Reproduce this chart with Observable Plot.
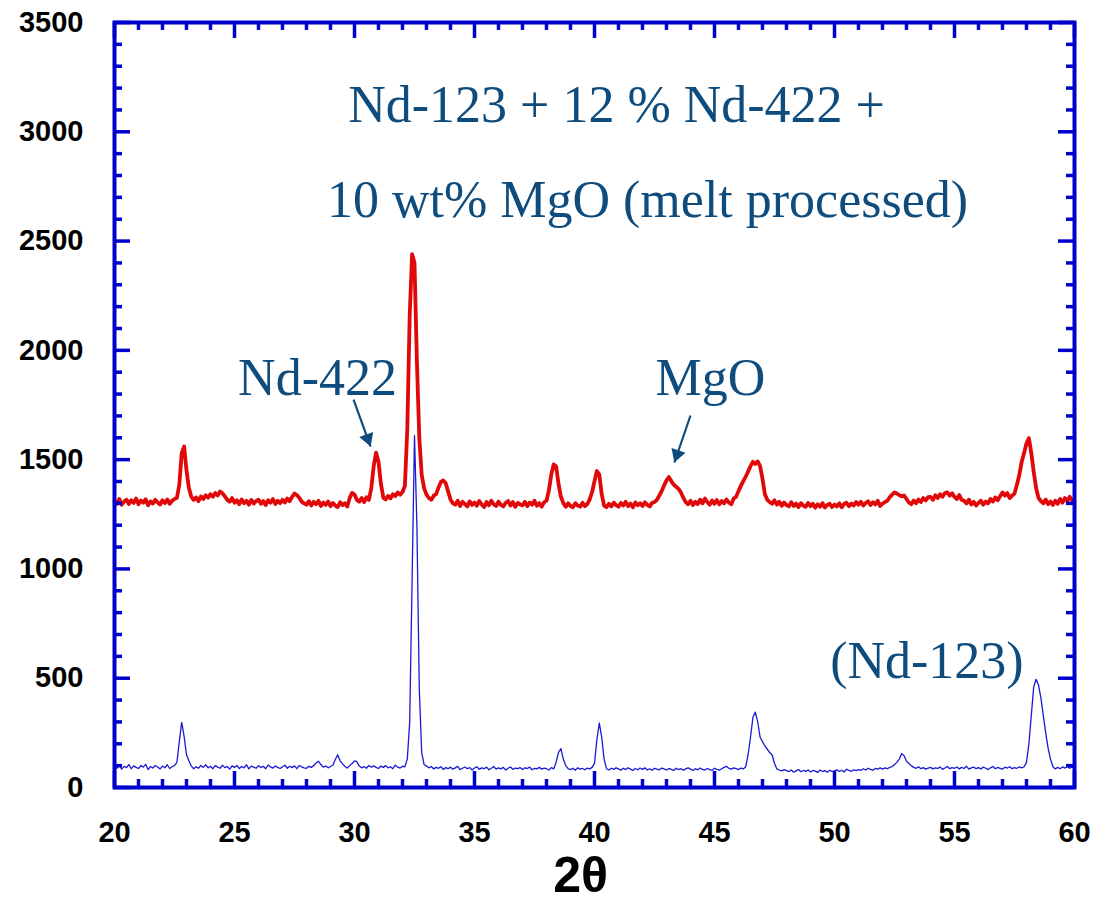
<!DOCTYPE html>
<html>
<head>
<meta charset="utf-8">
<script src="https://cdn.jsdelivr.net/npm/d3@7"></script>
<script src="https://cdn.jsdelivr.net/npm/@observablehq/plot@0.6"></script>
<style>
  html, body { margin: 0; padding: 0; background: #fff; }
  #chart svg { display: block; }
</style>
</head>
<body>
<div id="chart"></div>
<script>
// ---- Data (2θ scan from 20.0 to 60.0 deg, step 0.1) ----
const scanStart = 20, scanStep = 0.1;

// Nd-123 + 12% Nd-422 + 10 wt% MgO (melt processed) — red trace
const redCounts = [
  1310,1298,1320,1294,1308,1317,1297,1314,1302,1322, // 20
  1296,1313,1303,1319,1291,1309,1299,1316,1304,1295, // 21
  1314,1301,1318,1298,1312,1320,1325,1385,1530,1560, // 22
  1450,1370,1330,1316,1327,1310,1332,1320,1337,1326, // 23
  1342,1330,1347,1336,1354,1346,1332,1316,1308,1324, // 24
  1303,1314,1296,1318,1301,1312,1294,1316,1299,1310, // 25
  1317,1298,1311,1292,1314,1303,1320,1297,1312,1301, // 26
  1316,1304,1322,1310,1330,1345,1338,1325,1308,1300, // 27
  1294,1310,1290,1307,1296,1312,1288,1304,1293,1308, // 28
  1287,1302,1290,1283,1305,1292,1300,1286,1325,1348, // 29
  1340,1316,1308,1324,1306,1328,1316,1370,1470,1532, // 30
  1490,1390,1326,1318,1334,1323,1342,1333,1350,1340, // 31
  1352,1380,1640,2160,2440,2400,1950,1600,1430,1370, // 32
  1340,1325,1316,1335,1342,1372,1398,1405,1392,1355, // 33
  1318,1300,1294,1312,1288,1307,1297,1286,1309,1293, // 34
  1304,1289,1311,1295,1283,1306,1291,1312,1296,1288, // 35
  1308,1293,1286,1303,1311,1290,1306,1284,1302,1295, // 36
  1291,1307,1287,1304,1294,1312,1289,1301,1285,1305, // 37
  1312,1360,1432,1478,1470,1390,1330,1302,1284,1300, // 38
  1288,1282,1301,1290,1285,1303,1287,1297,1318,1352, // 39
  1402,1448,1432,1342,1290,1283,1298,1286,1303,1292, // 40
  1285,1302,1290,1307,1287,1299,1282,1304,1291,1300, // 41
  1288,1305,1293,1286,1302,1306,1316,1336,1356,1382, // 42
  1405,1420,1402,1386,1376,1366,1350,1326,1306,1296, // 43
  1312,1292,1307,1297,1317,1300,1322,1306,1294,1313, // 44
  1298,1315,1295,1311,1300,1318,1303,1296,1322,1330, // 45
  1356,1380,1402,1422,1446,1470,1490,1480,1492,1470, // 46
  1412,1342,1316,1306,1298,1314,1294,1307,1289,1304, // 47
  1292,1286,1305,1288,1299,1283,1301,1290,1284,1302, // 48
  1287,1298,1280,1296,1285,1301,1281,1293,1298,1283, // 49
  1295,1286,1300,1282,1297,1303,1287,1299,1290,1306, // 50
  1294,1307,1290,1302,1310,1292,1305,1295,1312,1288, // 51
  1299,1306,1312,1328,1340,1350,1345,1338,1332,1336, // 52
  1320,1304,1296,1313,1301,1318,1306,1324,1313,1328, // 53
  1330,1316,1337,1324,1342,1330,1347,1350,1336,1346, // 54
  1330,1320,1338,1316,1312,1300,1317,1295,1307,1290, // 55
  1302,1312,1294,1308,1300,1320,1308,1327,1314,1332, // 56
  1350,1336,1347,1324,1335,1345,1385,1430,1490,1530, // 57
  1575,1598,1530,1445,1370,1325,1310,1300,1317,1296, // 58
  1308,1293,1312,1298,1320,1303,1324,1310,1330,1314, // 59
  1310                                               // 60
];

// Nd-123 — blue trace
const blueCounts = [
  95,88,102,84,97,91,105,86,99,92,        // 20
  87,100,93,106,82,96,89,101,94,85,       // 21
  98,90,104,87,95,100,115,210,298,235,    // 22
  150,122,98,86,95,88,101,92,104,90,      // 23
  97,86,100,93,88,102,91,96,84,99,        // 24
  92,101,87,96,90,104,85,98,93,88,        // 25
  100,91,97,86,103,94,89,98,92,87,        // 26
  95,102,88,97,91,99,86,101,94,90,        // 27
  88,97,92,100,112,120,105,93,98,90,      // 28
  96,102,128,150,122,108,96,89,100,110,   // 29
  122,118,98,90,96,88,101,93,99,92,       // 30
  87,98,92,100,90,95,86,102,93,89,        // 31
  97,95,130,300,950,1610,1200,450,160,105,// 32
  98,90,96,85,92,88,95,83,91,86,          // 33
  93,84,90,97,82,88,94,86,91,80,          // 34
  89,95,83,90,86,93,81,88,96,84,          // 35
  90,85,92,80,88,94,83,89,86,91,          // 36
  82,90,87,93,81,88,85,92,84,89,          // 37
  86,80,91,85,115,160,178,130,100,86,     // 38
  82,88,79,90,84,87,81,89,85,92,          // 39
  110,220,295,230,130,86,80,88,83,90,     // 40
  85,79,88,82,90,84,78,87,81,89,          // 41
  83,90,80,86,79,88,84,81,89,85,          // 42
  80,87,83,78,88,82,86,79,85,90,          // 43
  84,78,86,81,89,83,80,87,82,79,          // 44
  88,83,79,86,92,97,88,84,90,86,          // 45
  82,89,85,95,150,230,320,345,300,230,    // 46
  210,190,175,160,150,110,85,80,76,82,    // 47
  77,73,80,70,76,82,72,78,74,80,          // 48
  71,78,75,69,80,73,77,70,79,74,          // 49
  76,81,73,79,71,84,78,74,81,77,          // 50
  82,78,86,80,88,83,79,87,84,90,          // 51
  84,90,86,92,95,105,115,130,155,145,     // 52
  120,110,100,92,88,95,86,91,84,89,       // 53
  92,85,90,87,94,83,89,96,86,91,          // 54
  88,94,85,92,87,97,84,90,93,86,          // 55
  91,85,94,88,82,90,96,86,92,88,          // 56
  84,93,89,95,86,91,88,94,90,95,          // 57
  115,200,330,460,495,470,410,330,250,180,// 58
  130,95,85,92,86,94,89,96,88,93,         // 59
  90                                      // 60
];

// Axis ticks
const xMajorTicks = [20, 25, 30, 35, 40, 45, 50, 55, 60];
const xMinorTicks = [21,22,23,24,26,27,28,29,31,32,33,34,36,37,38,39,41,42,43,44,46,47,48,49,51,52,53,54,56,57,58,59];
const yMajorTicks = [0, 500, 1000, 1500, 2000, 2500, 3000, 3500];
const yMinorTicks = [100,200,300,400,600,700,800,900,1100,1200,1300,1400,1600,1700,1800,1900,2100,2200,2300,2400,2600,2700,2800,2900,3100,3200,3300,3400];
const xTitle = "2θ";
const xTitleAt = 39.42;

// Annotations
const noteText = ["Nd-123 + 12 % Nd-422 +", "10 wt% MgO (melt processed)", "Nd-422", "MgO", "(Nd-123)"];
const noteX = [40.92, 42.21, 28.46, 44.83, 53.85];
const noteY = [3047, 2608, 1798, 1798, 503];

const arrowFromX = [29.96, 44.0];
const arrowFromY = [1775, 1702];
const arrowToX = [30.67, 43.33];
const arrowToY = [1560, 1487];

// ---- Build tables ----
const scan = redCounts.map((r, i) => ({
  tt: +(scanStart + i * scanStep).toFixed(1),
  red: r,
  blue: blueCounts[i]
}));
const notes = noteText.map((t, i) => ({t, x: noteX[i], y: noteY[i]}));
const arrows = arrowFromX.map((x, i) => ({x1: x, y1: arrowFromY[i], x2: arrowToX[i], y2: arrowToY[i]}));

const W = 1093, H = 914, mL = 114, mR = 19, mT = 22, mB = 127;
const innerW = W - mL - mR, innerH = H - mT - mB;
const frameBlue = "#0000cc";
const noteBlue = "#0f4c7e";
const sans = "'Liberation Sans', Arial, Helvetica, sans-serif";
const serif = "'Liberation Serif', 'Times New Roman', Times, serif";

const chart = Plot.plot({
  width: W, height: H,
  marginLeft: mL, marginRight: mR, marginTop: mT, marginBottom: mB,
  style: {background: "#fff", overflow: "visible"},
  x: {domain: [20, 60]},
  y: {domain: [0, 3500]},
  marks: [
    // data
    Plot.line(scan, {x: "tt", y: "red", stroke: "#e00808", strokeWidth: 3.8, strokeLinejoin: "round"}),
    Plot.line(scan, {x: "tt", y: "blue", stroke: "#1a1ad4", strokeWidth: 1.3, strokeLinejoin: "round"}),
    // frame
    Plot.frame({stroke: frameBlue, strokeWidth: 4}),
    // inward ticks on all four sides
    Plot.ruleX(xMajorTicks, {x: d => d, stroke: frameBlue, strokeWidth: 3.5, insetTop: innerH - 16}),
    Plot.ruleX(xMinorTicks, {x: d => d, stroke: frameBlue, strokeWidth: 3.5, insetTop: innerH - 8}),
    Plot.ruleX(xMajorTicks, {x: d => d, stroke: frameBlue, strokeWidth: 3.5, insetBottom: innerH - 16}),
    Plot.ruleX(xMinorTicks, {x: d => d, stroke: frameBlue, strokeWidth: 3.5, insetBottom: innerH - 8}),
    Plot.ruleY(yMajorTicks, {y: d => d, stroke: frameBlue, strokeWidth: 3.5, insetRight: innerW - 16}),
    Plot.ruleY(yMinorTicks, {y: d => d, stroke: frameBlue, strokeWidth: 3.5, insetRight: innerW - 8}),
    Plot.ruleY(yMajorTicks, {y: d => d, stroke: frameBlue, strokeWidth: 3.5, insetLeft: innerW - 16}),
    Plot.ruleY(yMinorTicks, {y: d => d, stroke: frameBlue, strokeWidth: 3.5, insetLeft: innerW - 8}),
    // tick labels
    Plot.axisX({ticks: xMajorTicks, tickSize: 0, tickPadding: 34, label: null,
      fontSize: 29, fontWeight: "bold", fontFamily: sans, fill: "#000"}),
    Plot.axisY({ticks: yMajorTicks, tickSize: 0, tickPadding: 31, label: null, tickFormat: d => String(d),
      fontSize: 29, fontWeight: "bold", fontFamily: sans, fill: "#000"}),
    // axis title 2θ
    Plot.text([xTitle], {x: () => xTitleAt, frameAnchor: "bottom", text: d => d, dy: 104, lineAnchor: "bottom",
      fontSize: 50, fontWeight: "bold", fontFamily: sans, fill: "#000"}),
    // annotations
    Plot.text(notes, {x: "x", y: "y", text: "t", lineAnchor: "bottom", textAnchor: "middle",
      fontSize: 52, fontFamily: serif, fill: noteBlue}),
    Plot.link(arrows, {x1: "x1", y1: "y1", x2: "x2", y2: "y2", stroke: noteBlue, strokeWidth: 2.2}),
    Plot.dot(arrows.slice(0, 1), {x: "x2", y: "y2", symbol: "triangle", r: 5.5, fill: noteBlue, stroke: "none",
      rotate: 160, dx: -2.9, dy: -8}),
    Plot.dot(arrows.slice(1, 2), {x: "x2", y: "y2", symbol: "triangle", r: 5.5, fill: noteBlue, stroke: "none",
      rotate: 199, dx: 2.7, dy: -8})
  ]
});
document.getElementById("chart").appendChild(chart);
</script>
</body>
</html>
